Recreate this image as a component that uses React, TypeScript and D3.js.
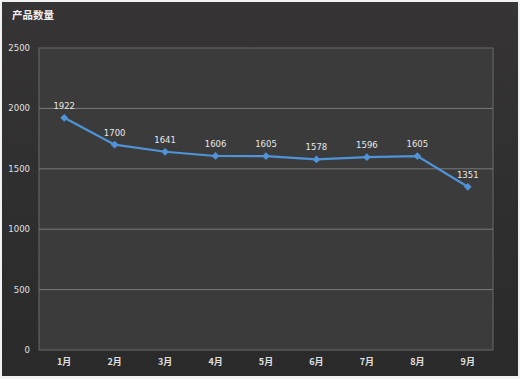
import React from "react";
import * as d3 from "d3";

const categories = ["1月", "2月", "3月", "4月", "5月", "6月", "7月", "8月", "9月"];
const values = [1922, 1700, 1641, 1606, 1605, 1578, 1596, 1605, 1351];
const yTicks = [0, 500, 1000, 1500, 2000, 2500];
const title = "产品数量";

const W = 520;
const H = 379;
const plot = { left: 39, right: 493, top: 48, bottom: 350 };

export default function App() {
  const x = d3.scaleBand<string>().domain(categories).range([plot.left, plot.right]);
  const y = d3.scaleLinear().domain([0, 2500]).range([plot.bottom, plot.top]);
  const cx = (c: string) => (x(c) ?? 0) + x.bandwidth() / 2;
  const line = d3
    .line<number>()
    .x((_, i) => cx(categories[i]))
    .y((d) => y(d));
  const marker = d3.symbol().type(d3.symbolSquare).size(30)() as string;
  const font = "'Noto Sans CJK SC', 'Noto Sans', sans-serif";
  const numFont = "'DejaVu Sans', 'Noto Sans', sans-serif";

  return (
    <div style={{ position: "fixed", left: 0, top: 0 }}>
      <svg width={W} height={H} style={{ display: "block" }}>
        <defs>
          <linearGradient id="bg" x1="0" y1="0" x2="0" y2="1">
            <stop offset="0" stopColor="#363434" />
            <stop offset="1" stopColor="#2a2a2a" />
          </linearGradient>
        </defs>
        <rect x={0} y={0} width={W} height={H} fill="#f2f2f2" />
        <rect x={2} y={2} width={W - 4} height={H - 5} fill="url(#bg)" />
        <rect
          x={plot.left}
          y={plot.top}
          width={plot.right - plot.left}
          height={plot.bottom - plot.top}
          fill="#3b3b3b"
          stroke="#6a6a6a"
          strokeWidth={1}
        />
        {yTicks.map((t) => (
          <g key={t}>
            {t > 0 && t < 2500 && (
              <line x1={plot.left} x2={plot.right} y1={y(t)} y2={y(t)} stroke="#7a7a7a" strokeWidth={1} />
            )}
            <text
              x={30}
              y={y(t)}
              dy="0.35em"
              textAnchor="end"
              fill="#e0e0e0"
              fontSize={8.5}
              fontFamily={numFont}
            >
              {t}
            </text>
          </g>
        ))}
        {categories.map((c) => (
          <text
            key={c}
            x={cx(c)}
            y={365}
            textAnchor="middle"
            fill="#e0e0e0"
            fontSize={9}
            fontWeight="bold"
            fontFamily={font}
          >
            {c}
          </text>
        ))}
        <path d={line(values) ?? ""} fill="none" stroke="#4f94d8" strokeWidth={2.2} />
        {values.map((v, i) => (
          <g key={i}>
            <path
              d={marker}
              transform={`translate(${cx(categories[i])},${y(v)}) rotate(45)`}
              fill="#4f94d8"
            />
            <text
              x={cx(categories[i])}
              y={y(v) - 9}
              textAnchor="middle"
              fill="#e8e8e8"
              fontSize={8.5}
              fontFamily={numFont}
            >
              {v}
            </text>
          </g>
        ))}
        <text x={12} y={19} fill="#f0f0f0" fontSize={10.5} fontWeight="bold" fontFamily={font}>
          {title}
        </text>
      </svg>
    </div>
  );
}
